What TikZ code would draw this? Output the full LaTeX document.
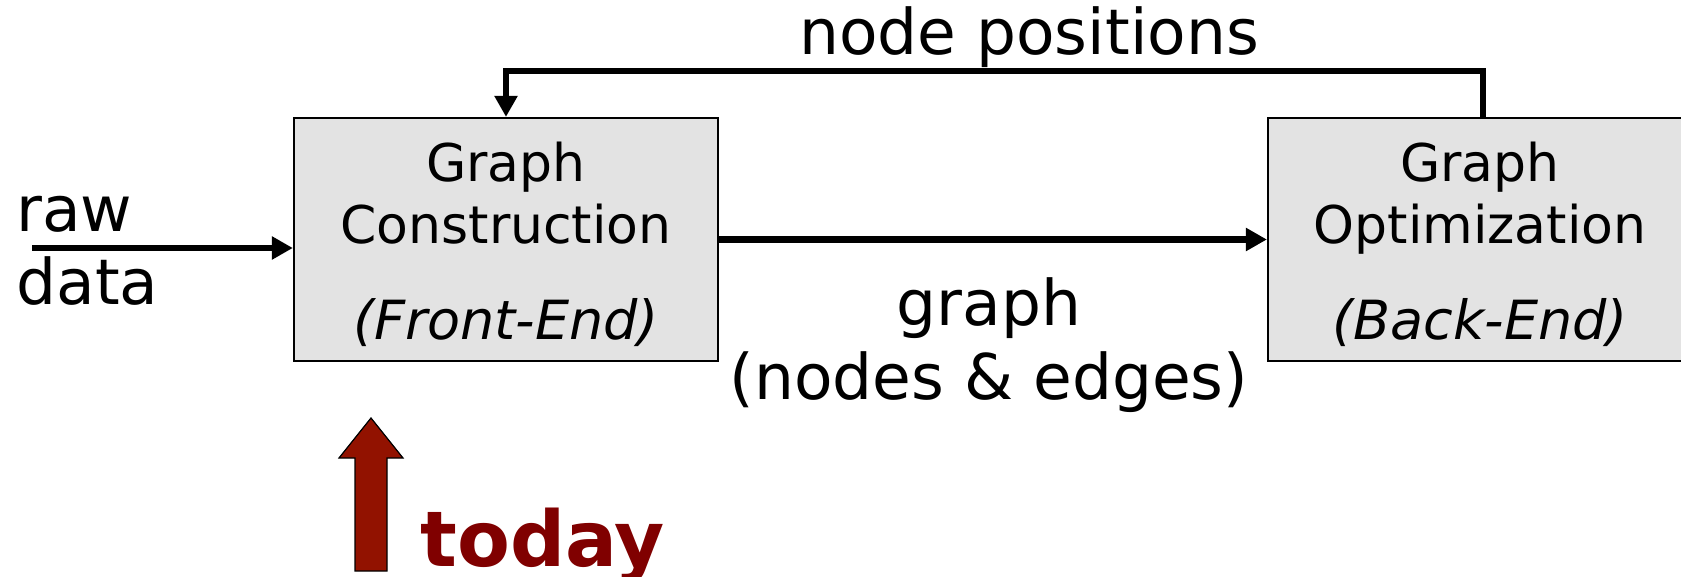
\documentclass[tikz,border=0pt]{standalone}
\usepackage{fontspec}
\setmainfont{DejaVu Sans}
\usetikzlibrary{arrows.meta,calc,positioning}
\definecolor{boxgray}{RGB}{227,227,227}
\definecolor{todayred}{RGB}{146,18,0}
\definecolor{todaytext}{RGB}{128,0,0}
\tikzset{
  stage/.style={draw, line width=1.1pt, fill=boxgray, minimum width=212pt, minimum height=121.5pt, inner sep=0pt},
  stagetext/.style={font=\fontsize{26}{30}\selectfont, anchor=base, inner sep=0pt},   % text inside the boxes
  bigtext/.style={font=\fontsize{31.5}{36}\selectfont, anchor=base, inner sep=0pt},   % labels outside
  flow/.style={-{Triangle[length=10.5pt,width=11pt]}, line width=3.2pt},
  todayarrow/.style={fill=todayred, draw=black, line width=0.6pt}
}

\begin{document}
\begin{tikzpicture}[x=0.5pt, y=-0.5pt]
  \clip (0,0) rectangle (1681,577);
  % the two stages
  \node[stage] (front) at (506,239.5) {};
  \node[stage] (back) at (1480,239.5) {};
  \node[stagetext] (frontA) at (506,182) {Graph};
  \node[stagetext] (frontB) at (506,244) {Construction};
  \node[stagetext, font=\fontsize{27}{30}\selectfont\itshape] (frontC) at (506,339) {(Front-End)};
  \node[stagetext] (backA) at (1480,182) {Graph};
  \node[stagetext] (backB) at (1480,244) {Optimization};
  \node[stagetext, font=\fontsize{27}{30}\selectfont\itshape] (backC) at (1480,339) {(Back-End)};
  % input
  \node[bigtext, anchor=base west] (raw) at (16,232) {raw};
  \node[bigtext, anchor=base west] (data) at (16,305) {data};
  \coordinate (rawin) at (32,248);
  \draw[flow] (rawin) -- (rawin -| front.west);
  % front-end to back-end
  \draw[flow] (front.east) -- (back.west);
  \node[bigtext] (graphlbl) at (989,326) {graph};
  \node[bigtext] (edgelbl) at (989,399) {(nodes \& edges)};
  % feedback loop
  \coordinate (fbtop) at (1000,71);
  \draw[flow] ($(back.north)+(3,0)$) |- (fbtop) -| (front.north);
  \node[bigtext] (poslbl) at (1029,55) {node positions};
  % today marker
  \draw[todayarrow] (355,571) -- (355,458) -- (339,458) -- (371,418)
    -- (403,458) -- (387,458) -- (387,571) -- cycle;
  \node[font=\bfseries\fontsize{38.5}{44}\selectfont, text=todaytext, anchor=base west, inner sep=0pt] (today) at (420,566) {today};
\end{tikzpicture}
\end{document}
